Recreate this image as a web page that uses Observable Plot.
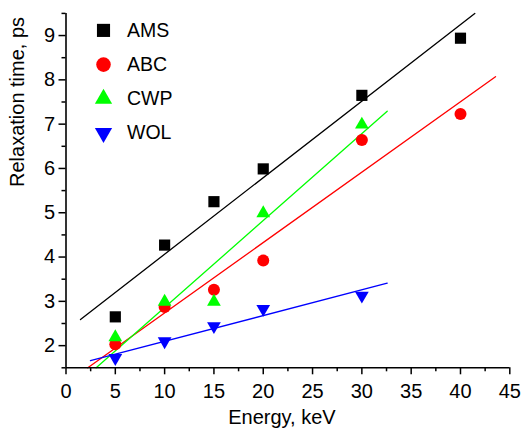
<!DOCTYPE html>
<html>
<head>
<meta charset="utf-8">
<script src="https://cdn.jsdelivr.net/npm/d3@7"></script>
<script src="https://cdn.jsdelivr.net/npm/@observablehq/plot@0.6"></script>
<style>
  html, body { margin: 0; padding: 0; background: #fff; }
  #chart { width: 521px; height: 428px; }
</style>
</head>
<body>
<div id="chart"></div>
<script>
// ---- data ----
const seriesNames = ["AMS", "ABC", "CWP", "WOL"];
const seriesColors = ["#000000", "#ff0000", "#00ff00", "#0000ff"];
const seriesSymbols = ["square", "circle", "triangle", "triangle"];
const seriesRotate = [0, 0, 0, 180];

const amsEnergy = [5, 10, 15, 20, 30, 40];
const amsTime = [2.65, 4.27, 5.25, 5.99, 7.65, 8.94];
const abcEnergy = [5, 10, 15, 20, 30, 40];
const abcTime = [2.03, 2.87, 3.26, 3.92, 6.64, 7.23];
const cwpEnergy = [5, 10, 15, 20, 30];
const cwpTime = [2.19, 2.99, 2.99, 4.99, 6.99];
const wolEnergy = [5, 10, 15, 20, 30];
const wolTime = [1.72, 2.1, 2.44, 2.83, 3.13];

// fitted lines: [start, end] as [energy, time]
const amsFit = [[1.47, 2.59], [41.45, 9.5]];
const abcFit = [[2.21, 1.5], [43.55, 8.07]];
const cwpFit = [[3.06, 1.5], [32.57, 7.29]];
const wolFit = [[2.48, 1.66], [32.57, 3.41]];

const xMajor = [0, 5, 10, 15, 20, 25, 30, 35, 40, 45];
const xMinor = [2.5, 7.5, 12.5, 17.5, 22.5, 27.5, 32.5, 37.5, 42.5];
const yMajor = [2, 3, 4, 5, 6, 7, 8, 9];
const yMinor = [1.5, 2.5, 3.5, 4.5, 5.5, 6.5, 7.5, 8.5, 9.5];

const xLabel = "Energy, keV";
const yLabel = "Relaxation time, ps";

// ---- build ----
const pts = (xs, ys) => xs.map((x, i) => ({x, y: ys[i]}));
const series = [
  {pts: pts(amsEnergy, amsTime), fit: amsFit, r: 6.3},
  {pts: pts(abcEnergy, abcTime), fit: abcFit, r: 6},
  {pts: pts(cwpEnergy, cwpTime), fit: cwpFit, r: 5.1},
  {pts: pts(wolEnergy, wolTime), fit: wolFit, r: 5.1}
];
const legendR = [7.4, 7.3, 6.4, 6.4];

const font = "'Liberation Sans', Arial, Helvetica, sans-serif";
const marks = [];

// fit lines
series.forEach((s, i) => {
  marks.push(Plot.line(s.fit, {x: d => d[0], y: d => d[1], stroke: seriesColors[i], strokeWidth: 1.3}));
});
// data points
series.forEach((s, i) => {
  marks.push(Plot.dot(s.pts, {x: "x", y: "y", symbol: seriesSymbols[i], fill: seriesColors[i], stroke: "none", r: s.r, rotate: seriesRotate[i]}));
});
// legend
seriesNames.forEach((name, i) => {
  marks.push(Plot.dot([name], {frameAnchor: "top-left", dx: 37.5, dy: 17 + i * 34.2, symbol: seriesSymbols[i], fill: seriesColors[i], stroke: "none", r: legendR[i], rotate: seriesRotate[i]}));
  marks.push(Plot.text([name], {text: d => d, frameAnchor: "top-left", dx: 61, dy: 17 + i * 34.2, textAnchor: "start", lineAnchor: "middle", fontSize: 19.5, fill: "#000"}));
});

// axes
marks.push(Plot.axisX(xMajor, {tickSize: 7, tickPadding: 8.5, strokeWidth: 1.5, fontSize: 20, label: null}));
marks.push(Plot.axisX(xMinor, {tickSize: 4, strokeWidth: 1.5, tickFormat: () => "", label: null}));
marks.push(Plot.axisY(yMajor, {tickSize: 7, tickPadding: 4, strokeWidth: 1.5, fontSize: 20, label: null}));
marks.push(Plot.axisY(yMinor, {tickSize: 4, strokeWidth: 1.5, tickFormat: () => "", label: null}));
marks.push(Plot.ruleY([1.5], {stroke: "#000", strokeWidth: 1.6}));
marks.push(Plot.ruleX([0], {stroke: "#000", strokeWidth: 1.6}));

// axis titles
marks.push(Plot.text([xLabel], {text: d => d, frameAnchor: "bottom", dx: -6, dy: 49.5, lineAnchor: "middle", fontSize: 20, fill: "#000"}));
marks.push(Plot.text([yLabel], {text: d => d, frameAnchor: "left", dx: -48.8, dy: -3.6, rotate: -90, lineAnchor: "middle", fontSize: 20, fill: "#000"}));

const chart = Plot.plot({
  width: 521,
  height: 428,
  marginLeft: 65.5,
  marginRight: 11.7,
  marginTop: 12.9,
  marginBottom: 60.7,
  x: {domain: [0, 45]},
  y: {domain: [1.5, 9.5]},
  style: {fontFamily: font, color: "#000", background: "#fff", overflow: "visible"},
  marks
});
document.getElementById("chart").appendChild(chart);
</script>
</body>
</html>
